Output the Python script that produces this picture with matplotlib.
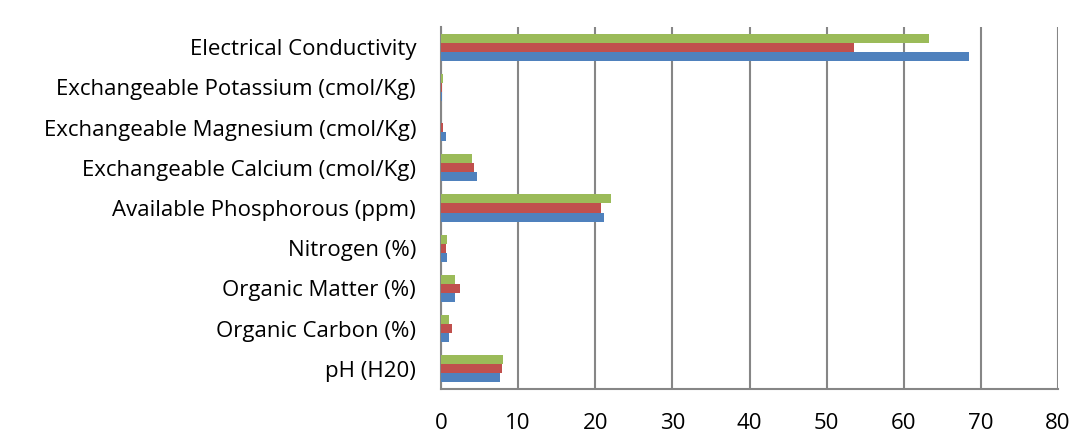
import numpy as np
import matplotlib
matplotlib.use("Agg")
import matplotlib.pyplot as plt

plt.rcParams['font.family'] = ['Open Sans', 'DejaVu Sans']

# soil properties, bottom to top
categories = ["pH (H20)", "Organic Carbon (%)", "Organic Matter (%)", "Nitrogen (%)",
              "Available Phosphorous (ppm)", "Exchangeable Calcium (cmol/Kg)",
              "Exchangeable Magnesium (cmol/Kg)", "Exchangeable Potassium (cmol/Kg)",
              "Electrical Conductivity"]
blue_vals = [7.7, 1.0, 1.83, 0.73, 21.1, 4.7, 0.6, 0.15, 68.5]
red_vals = [7.9, 1.43, 2.5, 0.6, 20.8, 4.26, 0.3, 0.13, 53.6]
green_vals = [8.0, 1.0, 1.83, 0.78, 22.0, 3.96, 0.05, 0.2, 63.3]
xticks = [0, 10, 20, 30, 40, 50, 60, 70, 80]

fig = plt.figure(figsize=(10.74, 4.36), dpi=100)
ax = fig.add_axes([441/1074, 1-389/436, 617/1074, 362/436])

y = np.arange(len(categories))
h = 0.225
ax.barh(y - h, blue_vals, height=h, color="#4F81BD", zorder=3)
ax.barh(y, red_vals, height=h, color="#C0504D", zorder=3)
ax.barh(y + h, green_vals, height=h, color="#9BBB59", zorder=3)

ax.set_xlim(0, 80)
ax.set_ylim(-0.5, len(categories) - 0.5)
ax.set_xticks(xticks)
ax.set_yticks(y)
ax.set_yticklabels(categories)
ax.xaxis.grid(True, color="#868686", linewidth=1.5, zorder=0)
ax.tick_params(axis='both', length=0, labelsize=16)
ax.tick_params(axis='x', pad=17)
ax.tick_params(axis='y', pad=18)

for s in ['top', 'right']:
    ax.spines[s].set_visible(False)
for s in ['left', 'bottom']:
    ax.spines[s].set_color("#868686")
    ax.spines[s].set_linewidth(1.5)

fig.savefig("out.png", dpi=100)
